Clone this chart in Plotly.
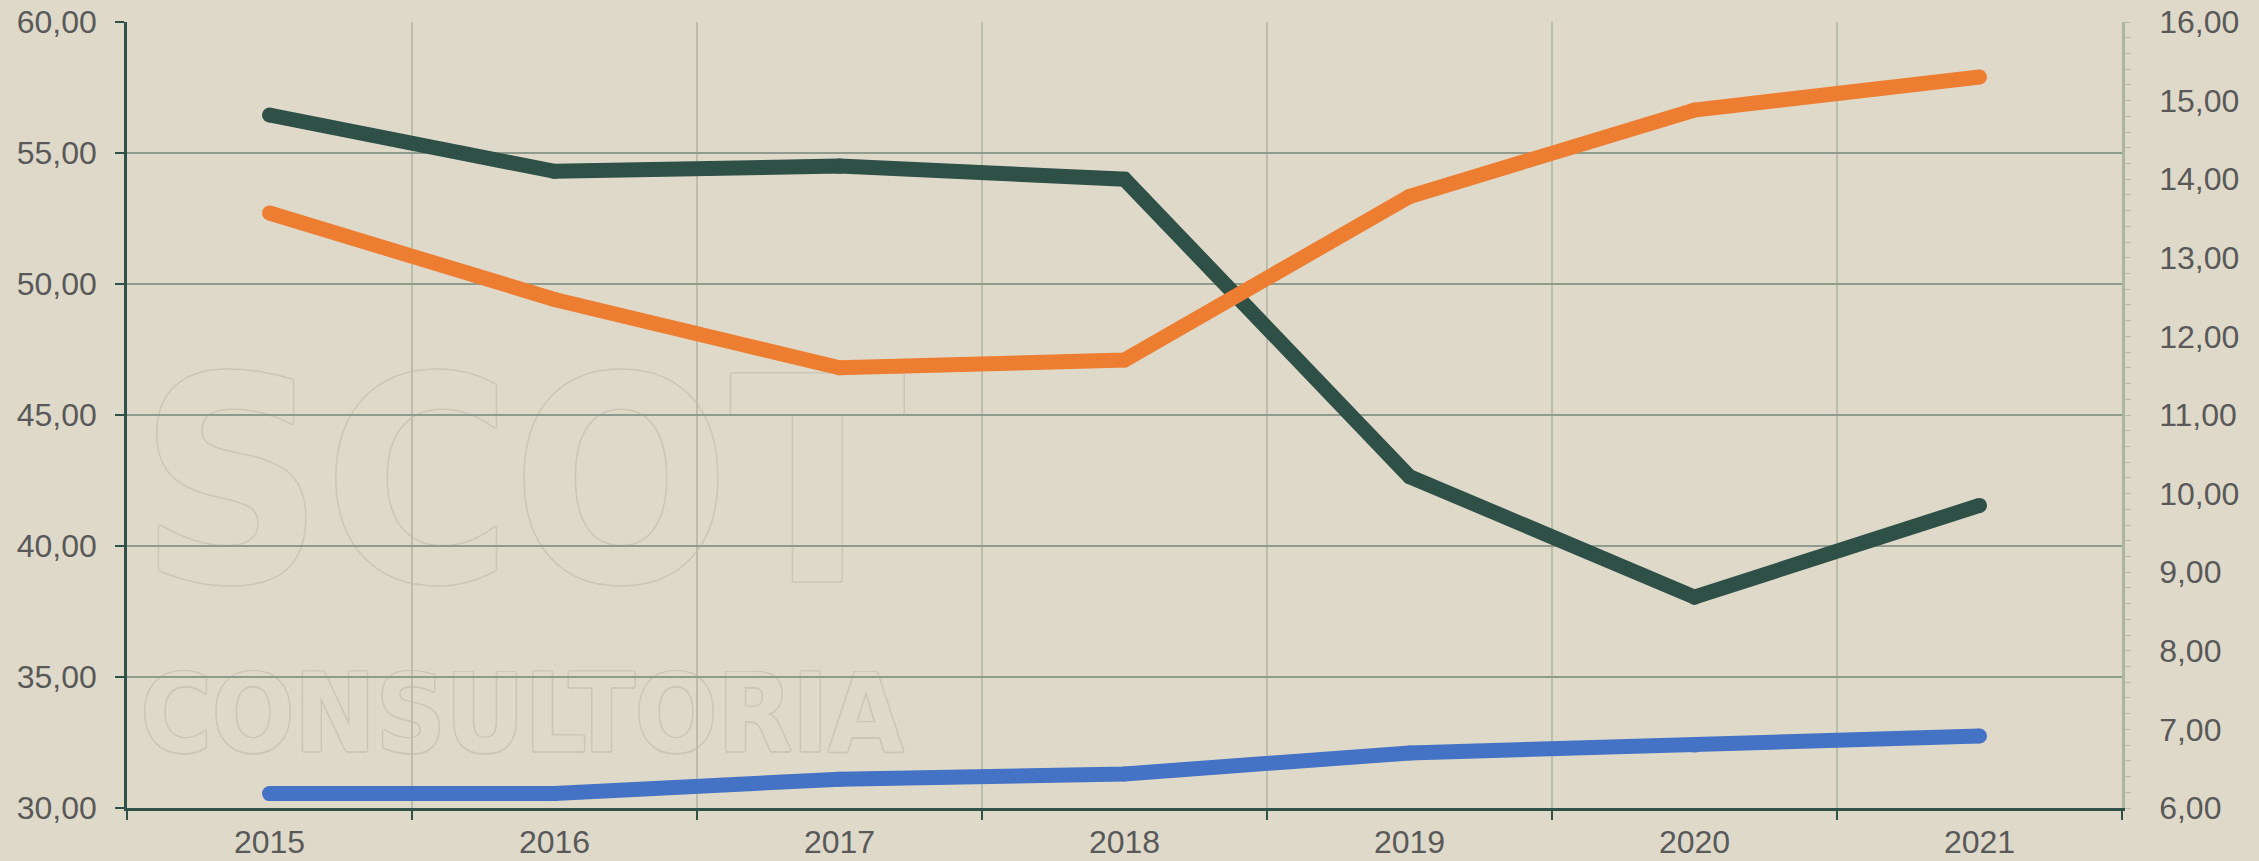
import plotly.graph_objects as go

years = ["2015", "2016", "2017", "2018", "2019", "2020", "2021"]
green_vals = [56.45, 54.3, 54.5, 54.0, 42.65, 38.05, 41.55]
blue_vals = [30.55, 30.55, 31.1, 31.3, 32.1, 32.4, 32.75]
orange_vals = [13.57, 12.47, 11.6, 11.7, 13.78, 14.88, 15.3]

left_ticks = [30, 35, 40, 45, 50, 55, 60]
right_ticks = [6, 7, 8, 9, 10, 11, 12, 13, 14, 15, 16]

BG = "#dfd9ca"
DARK = "#2e5249"
GREEN = "#2f5047"
ORANGE = "#ed7d31"
BLUE = "#4472c4"
TXT = "#595959"
FONT = "Liberation Sans, Arial, sans-serif"
FS = 32

fig = go.Figure()
fig.add_trace(go.Scatter(x=years, y=green_vals, mode="lines+markers",
                         line=dict(color=GREEN, width=15),
                         marker=dict(color=GREEN, size=15, line=dict(width=0)),
                         yaxis="y", showlegend=False))
fig.add_trace(go.Scatter(x=years, y=blue_vals, mode="lines+markers",
                         line=dict(color=BLUE, width=15),
                         marker=dict(color=BLUE, size=15, line=dict(width=0)),
                         yaxis="y", showlegend=False))
fig.add_trace(go.Scatter(x=years, y=orange_vals, mode="lines+markers",
                         line=dict(color=ORANGE, width=15),
                         marker=dict(color=ORANGE, size=15, line=dict(width=0)),
                         yaxis="y2", showlegend=False))

outline = "#cbc6b6"
shadow = ", ".join(f"{dx}px {dy}px 0 {outline}" for dx, dy in
                   [(1.5, 0), (-1.5, 0), (0, 1.5), (0, -1.5), (1, 1), (-1, -1), (1, -1), (-1, 1)])
WM_FONT = "DejaVu Sans Condensed, Liberation Sans Narrow, sans-serif"

fig.update_layout(
    width=2259, height=861,
    margin=dict(l=127, r=137, t=22, b=53, autoexpand=False),
    paper_bgcolor=BG, plot_bgcolor=BG,
    separators=",.",
    font=dict(family=FONT, size=FS, color=TXT),
    xaxis=dict(type="category", tickson="boundaries", showgrid=True,
               gridcolor="#b9bead", gridwidth=1.5,
               showline=True, linecolor=DARK, linewidth=2.5,
               ticks="outside", ticklen=9, tickwidth=2, tickcolor=DARK,
               tickfont=dict(family=FONT, size=FS, color=TXT),
               ticklabelstandoff=4,
               range=[-0.5, 6.5], fixedrange=True, automargin=False),
    yaxis=dict(range=[30, 60], tickvals=left_ticks, tickformat=".2f",
               showgrid=True, gridcolor="#8f9b8c", gridwidth=1.5,
               showline=True, linecolor=DARK, linewidth=2.5,
               ticks="outside", ticklen=9, tickwidth=2, tickcolor=DARK,
               tickfont=dict(family=FONT, size=FS, color=TXT),
               ticklabelstandoff=12, zeroline=False, automargin=False),
    yaxis2=dict(range=[6, 16], tickvals=right_ticks, tickformat=".2f",
                overlaying="y", side="right", showgrid=False,
                showline=True, linecolor="#aab5a3", linewidth=2.5,
                ticks="outside", ticklen=6, tickwidth=1, tickcolor="#b4bcab",
                minor=dict(dtick=0.2, ticks="outside", ticklen=6, tickcolor="#b4bcab", tickwidth=1),
                tickfont=dict(family=FONT, size=FS, color=TXT),
                ticklabelstandoff=22, zeroline=False, automargin=False),
    shapes=[
        dict(type="rect", xref="paper", yref="paper", x0=0.0, x1=0.396, y0=0.3, y1=0.58,
             layer="below", line=dict(width=0), fillcolor="rgba(0,0,0,0)",
             label=dict(text="SCOT", textposition="middle center",
                        font=dict(family=WM_FONT, size=285, color=BG, weight="bold", shadow=shadow))),
        dict(type="rect", xref="paper", yref="paper", x0=0.0, x1=0.396, y0=0.05, y1=0.21,
             layer="below", line=dict(width=0), fillcolor="rgba(0,0,0,0)",
             label=dict(text="CONSULTORIA", textposition="middle center",
                        font=dict(family=WM_FONT, size=108, color=BG, weight="bold", shadow=shadow))),
    ],
)

fig.write_html("out.html",
               config={"displayModeBar": False},
               post_script="document.body.style.margin='0';document.body.style.background='" + BG + "';")
